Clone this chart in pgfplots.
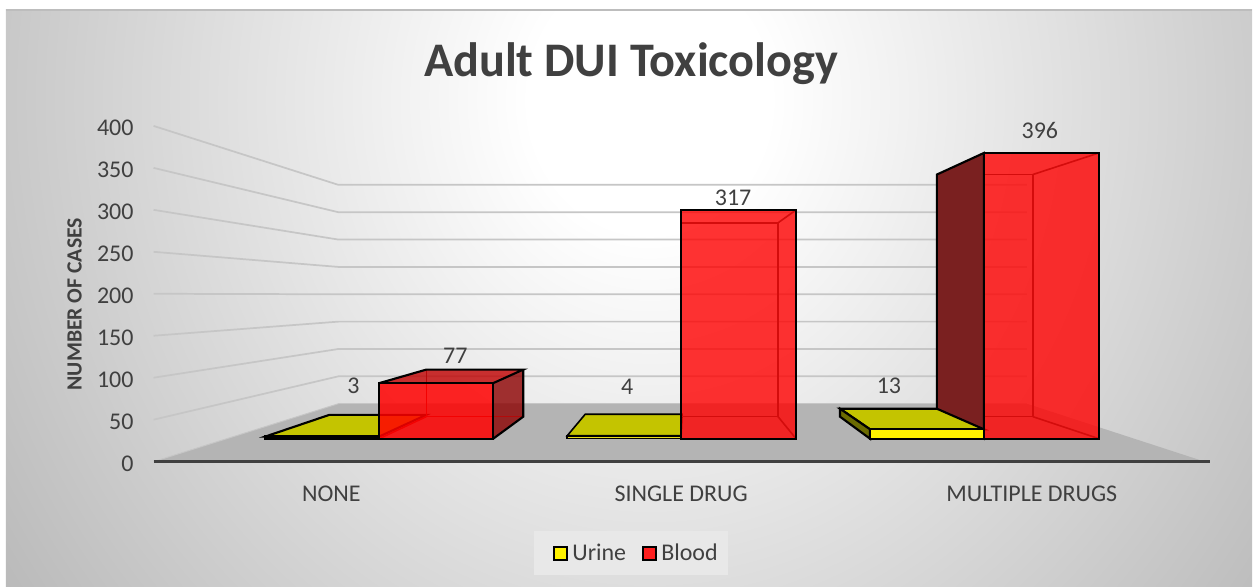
\documentclass[border=0pt]{standalone}
\usepackage{fontspec}
\setmainfont{Carlito}
\usepackage{pgfplots}
\usepackage{pgfplotstable}
\pgfplotsset{compat=1.18}
\definecolor{txt}{HTML}{404040}
\definecolor{floorc}{HTML}{B4B4B4}
\definecolor{gridc}{HTML}{C6C6C6}
\definecolor{olive}{HTML}{C4C400}
\definecolor{olived}{HTML}{6B6B00}
\definecolor{edgered}{HTML}{D40C0C}
\definecolor{legbg}{HTML}{E8E8E8}
\definecolor{bgout}{HTML}{B4B4B4}
\definecolor{bgedge}{HTML}{BDBDBD}
\definecolor{legred}{HTML}{FF2020}
\definecolor{sidered}{HTML}{7A2020}
% page background, shaded from a point near the title
\pgfdeclareradialshading{chartbg}{\pgfpoint{0bp}{0bp}}{color(0bp)=(white); color(3bp)=(white); color(21bp)=(bgout); color(50bp)=(bgout)}
% x in image pixels; v = value; d = 0 front plane of the bars, 1 back plane
\newcommand\face[2]{\addplot[forget plot,#1] table[row sep=\\,x=x,y expr={(23+22*\thisrow{d}+(0.722-0.11*\thisrow{d})*\thisrow{v})/0.84}] {x v d\\#2} --cycle;}
\newcommand\edge[2]{\addplot[forget plot,#1] table[row sep=\\,x=x,y expr={(23+22*\thisrow{d}+(0.722-0.11*\thisrow{d})*\thisrow{v})/0.84}] {x v d\\#2};}
\pgfplotstableread{
x p
153 0
338 1
1027 1
}\wallline
\pgfplotstableread{
x y lab
353 90.5 3
455 126.2 77
627 89.3 4
733 314.3 317
889 90.5 13
1040 394 396
}\barlabels
\begin{document}
\begin{tikzpicture}
\begin{scope}[xshift=-114.75pt,yshift=346.5pt,x=0.75pt,y=-0.75pt]
\fill[white] (0,0) rectangle (1253,587);
\begin{scope}
\clip (6,10) rectangle (1253,587);
\shade[shading=chartbg] (650,100) ellipse [x radius=1000,y radius=1100];
\end{scope}
\draw[bgedge,line width=1.5pt] (6,10) -- (1253,10);
\end{scope}
\begin{axis}[
    xshift=0.5pt,
    scale only axis,
    width=792.75pt,
    height=252pt,
    xmin=153, xmax=1210,
    ymin=0, ymax=400,
    clip=false,
    axis on top,
    axis x line*=bottom,
    axis y line*=left,
    x axis line style={draw=txt,line width=2.6pt,-},
    y axis line style={draw=none},
    major tick length=0pt,
    xtick={331,681,1032},
    xticklabels={NONE,SINGLE DRUG,MULTIPLE DRUGS},
    ytick={0,50,...,400},
    tick label style={font=\fontsize{18}{20}\selectfont,text=txt},
    /pgf/number format/assume math mode=true,
    xticklabel style={yshift=-14.5pt},
    yticklabel style={xshift=-11.5pt,yshift=-1.6pt},
    title={Adult DUI Toxicology},
    every axis title/.style={at={(0.4522,1.1845)},anchor=center,font=\fontsize{36.2}{40}\selectfont\bfseries,text=txt},
    ylabel={NUMBER OF CASES},
    every axis y label/.style={at={(-0.0747,0.469)},rotate=90,anchor=center,font=\fontsize{16.3}{18}\selectfont\bfseries,text=txt},
    legend columns=2,
    legend style={at={(0.4522,-0.2715)},anchor=center,draw=none,fill=legbg,font=\fontsize{18}{20}\selectfont,text=txt,inner xsep=6pt,inner ysep=7.5pt,/tikz/every even column/.append style={column sep=1.5pt}},
    legend image code/.code={\path (0pt,0pt) (20.5pt,0pt);\draw[#1,line width=1.5pt] (9pt,-5.5pt) rectangle (19pt,4.5pt);},
]
\addlegendimage{fill=yellow,draw=black}
\addlegendentry{Urine}
\addlegendimage{fill=legred,draw=black}
\addlegendentry{Blood}

% floor and walls
\addplot[forget plot,fill=floorc,draw=none] coordinates {(153,0) (338,69) (1027,69) (1205,0)} --cycle;
\pgfplotsinvokeforeach{50,100,...,400}{
  \addplot[forget plot,gridc,line width=1.3pt] table[x=x,y expr={\thisrow{p}==0 ? #1 : (58+0.5475*#1)/0.84}] {\wallline};
}
\addplot[forget plot,gridc,line width=0.7pt] coordinates {(153,0) (338,69)};
\addplot[forget plot,gridc,line width=0.7pt] coordinates {(338,69) (1027,69)};

% dark side that sits behind the yellow plate
\face{fill=sidered,draw=black,line width=1.6pt}{937 396 1\\984 396 0\\984 0 0\\937 0 1\\}

% urine
\face{fill=olive,draw=black,line width=1.6pt}{265 3 0\\329 3 1\\426 3 1\\379 3 0\\}
\face{fill=yellow,draw=black,line width=1.6pt}{265 0 0\\379 0 0\\379 3 0\\265 3 0\\}
\face{fill=olive,draw=black,line width=1.2pt}{567 4 0\\585 4 1\\682 4 1\\681 4 0\\}
\face{fill=yellow!50!olive,draw=black,line width=1.2pt}{567 0 0\\681 0 0\\681 4 0\\567 4 0\\}
\face{fill=olive,draw=black,line width=1.6pt}{870 13 0\\840 13 1\\937 13 1\\984 13 0\\}
\face{fill=olived,draw=black,line width=1.6pt}{840 13 1\\870 13 0\\870 0 0\\840 0 1\\}
\face{fill=yellow,draw=black,line width=1.6pt}{870 0 0\\984 0 0\\984 13 0\\870 13 0\\}

% blood: NONE
\face{fill=red!75!black,fill opacity=0.8,draw=none}{379 77 0\\426 77 1\\523 77 1\\493 77 0\\}
\face{fill=red!55!black,fill opacity=0.8,draw=none}{493 77 0\\523 77 1\\523 0 1\\493 0 0\\}
\edge{edgered!85!black,line width=1.1pt}{426 77 1\\426 0 1\\523 0 1\\}
\edge{edgered!85!black,line width=1.1pt}{379 0 0\\426 0 1\\}
\face{fill=red,fill opacity=0.85,draw=black,line width=1.6pt}{379 0 0\\493 0 0\\493 77 0\\379 77 0\\}
\edge{black,line width=1.6pt}{379 77 0\\426 77 1\\523 77 1\\493 77 0\\}
\edge{black,line width=1.6pt}{523 77 1\\523 0 1\\493 0 0\\}

% blood: SINGLE DRUG
\face{fill=red,fill opacity=0.8,draw=none}{681 0 0\\796 0 0\\796 317 0\\681 317 0\\}
\edge{edgered,line width=1.2pt}{681 317 1\\778 317 1\\778 0 1\\681 0 1\\}
\edge{edgered,line width=1.2pt}{778 317 1\\796 317 0\\}
\edge{edgered,line width=1.2pt}{778 0 1\\796 0 0\\}
\face{draw=black,line width=1.6pt}{681 0 0\\796 0 0\\796 317 0\\681 317 0\\}

% blood: MULTIPLE DRUGS
\face{fill=red,fill opacity=0.8,draw=none}{984 0 0\\1099 0 0\\1099 396 0\\984 396 0\\}
\edge{edgered,line width=1.2pt}{984 396 1\\1033 396 1\\1033 0 1\\984 0 1\\}
\edge{edgered,line width=1.2pt}{1033 396 1\\1099 396 0\\}
\edge{edgered,line width=1.2pt}{1033 0 1\\1099 0 0\\}
\face{draw=black,line width=1.6pt}{984 0 0\\1099 0 0\\1099 396 0\\984 396 0\\}

% data labels
\addplot[forget plot,draw=none,mark=none,
    point meta=explicit symbolic,
    nodes near coords,
    every node near coord/.style={anchor=center,font=\fontsize{18}{20}\selectfont,text=txt,inner sep=0pt}]
  table[x=x,y=y,meta=lab] {\barlabels};
\end{axis}
\end{tikzpicture}
\end{document}
